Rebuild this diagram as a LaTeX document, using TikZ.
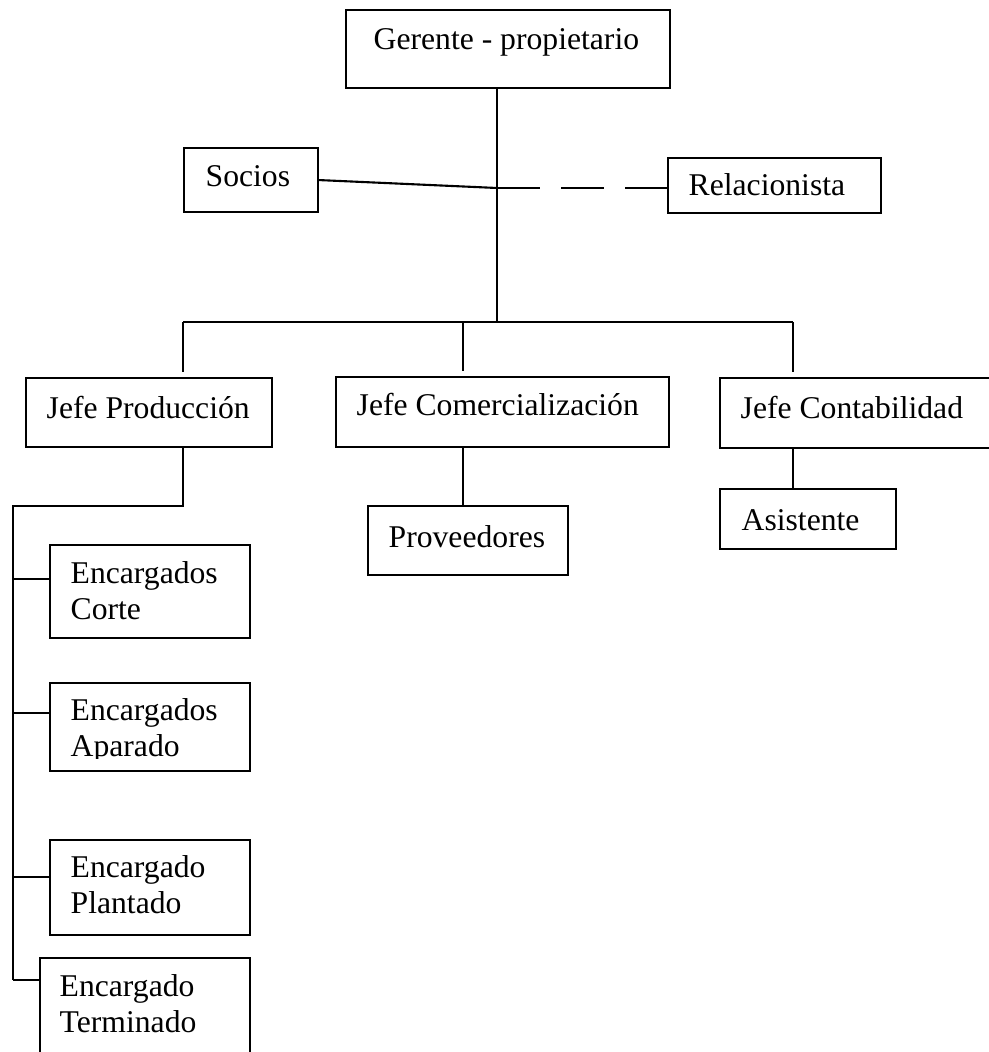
\documentclass[tikz,border=0pt]{standalone}
\usepackage{fontspec}
\setmainfont{Liberation Serif}

\tikzset{
  box/.style={draw, line width=0.6pt, inner sep=0pt, anchor=north west},
  lbl/.style={anchor=base west, inner sep=0pt, font=\fontsize{9}{10.24}\selectfont},
  link/.style={line width=0.6pt}
}
\newcommand{\twolines}[2]{\begin{tabular}[t]{@{}l@{}}#1\\#2\end{tabular}}

\begin{document}
\begin{tikzpicture}[x=0.01cm, y=-0.01cm]
\useasboundingbox (0,0) rectangle (989,1052);
\clip (0,0) rectangle (989,1052);

% boxes
\node[box, minimum width=3.24cm, minimum height=0.78cm] (gerente) at (345,9) {};
\node[box, minimum width=1.34cm, minimum height=0.64cm] (socios) at (183,147) {};
\node[box, minimum width=2.13cm, minimum height=0.55cm] (relac) at (667,157) {};
\node[box, minimum width=2.46cm, minimum height=0.69cm] (jprod) at (25,377) {};
\node[box, minimum width=3.33cm, minimum height=0.70cm] (jcom) at (335,376) {};
\node[box, minimum width=2.81cm, minimum height=0.70cm] (jcont) at (719,377) {};
\node[box, minimum width=1.76cm, minimum height=0.60cm] (asist) at (719,488) {};
\node[box, minimum width=2.00cm, minimum height=0.69cm] (prov) at (367,505) {};
\node[box, minimum width=2.00cm, minimum height=0.93cm] (corte) at (49,544) {};
\node[box, minimum width=2.00cm, minimum height=0.88cm] (aparado) at (49,682) {};
\node[box, minimum width=2.00cm, minimum height=0.95cm] (plantado) at (49,839) {};
\node[box, minimum width=2.10cm, minimum height=1.10cm] (term) at (39,957) {};

% texts
\node[lbl] (gerente-t) at (373,50) {Gerente - propietario};
\node[lbl] (socios-t) at (205,187) {Socios};
\node[lbl] (relac-t) at (688,196) {Relacionista};
\node[lbl] (jprod-t) at (46,418) {Jefe Producción};
\node[lbl] (jcom-t) at (356,416) {Jefe Comercialización};
\node[lbl] (jcont-t) at (740,418) {Jefe Contabilidad};
\node[lbl] (asist-t) at (741,530) {Asistente};
\node[lbl] (prov-t) at (388,547) {Proveedores};
\node[lbl] (corte-t) at (70,583) {\twolines{Encargados}{Corte}};
\begin{scope}
  \clip (49,682) rectangle (249,758);
  \node[lbl] (aparado-t) at (70,720) {\twolines{Encargados}{Aparado}};
\end{scope}
\node[lbl] (plantado-t) at (70,877) {\twolines{Encargado}{Plantado}};
\node[lbl] (term-t) at (59,996) {\twolines{Encargado}{Terminado}};

% connectors
\coordinate (hub) at (497,188);
\coordinate (barL) at (183,322);
\coordinate (barM) at (463,322);
\coordinate (barR) at (793,322);
\coordinate (spine) at (13,506);

\draw[link] (gerente.south -| hub) -- (hub |- barL);
\draw[link] (socios.east) -- (hub);
\draw[link, dash pattern=on 12.2pt off 6pt] (hub) -- (hub -| relac.west);
\draw[link] (barL) -- (barR);
\foreach \c/\n in {barL/jprod, barM/jcom, barR/jcont}
  \draw[link, shorten >=1.4pt] (\c) -- (\c |- \n.north);
\draw[link] (jprod.south -| barL) |- (spine) -- (spine |- 0,980);
\draw[link] (jcom.south -| barM) -- (barM |- prov.north);
\draw[link] (jcont.south -| barR) -- (barR |- asist.north);
\foreach \n/\y in {corte/579, aparado/713, plantado/877, term/980}
  \draw[link] (spine |- 0,\y) -- (\n.west |- 0,\y);
\end{tikzpicture}
\end{document}
